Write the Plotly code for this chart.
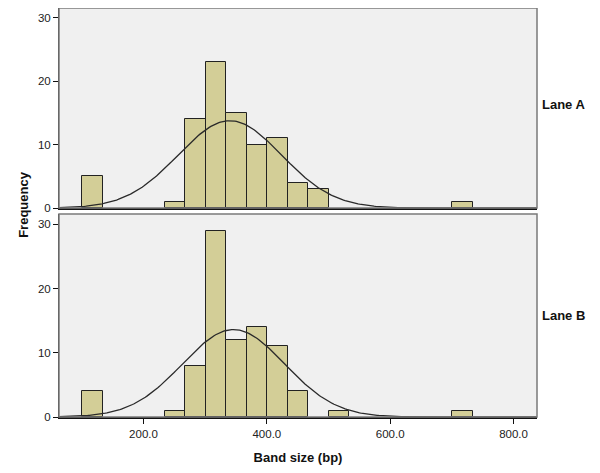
import numpy as np
import plotly.graph_objects as go
from plotly.subplots import make_subplots

# ---- data ----
bin_width = 33.3
bin_lefts_a = [101.0, 234.2, 267.5, 300.8, 334.1, 367.4, 400.7, 434.0, 467.3, 700.4]
counts_a = [5, 1, 14, 23, 15, 10, 11, 4, 3, 1]
bin_lefts_b = [101.0, 234.2, 267.5, 300.8, 334.1, 367.4, 400.7, 434.0, 500.6, 700.4]
counts_b = [4, 1, 8, 29, 12, 14, 11, 4, 1, 1]
mean_a, sd_a = 340.0, 84.0
mean_b, sd_b = 346.0, 83.0
x_ticks = [200, 400, 600, 800]
x_tick_labels = ["200.0", "400.0", "600.0", "800.0"]
y_ticks = [0, 10, 20, 30]
panel_labels = ["Lane A", "Lane B"]
x_title = "Band size (bp)"
y_title = "Frequency"

x_range = [63, 838]
BAR_FILL = "#D3CE97"
BG = "#F0F0F0"
FONT = "Liberation Sans, Arial, sans-serif"

fig = make_subplots(rows=2, cols=1, shared_xaxes=True, vertical_spacing=0.0)

def normal_curve(mean, sd, n):
    xs = np.linspace(x_range[0], x_range[1], 300)
    ys = n * bin_width / (sd * np.sqrt(2 * np.pi)) * np.exp(-0.5 * ((xs - mean) / sd) ** 2)
    return xs, ys

for row, (lefts, counts, m, s) in enumerate(
        [(bin_lefts_a, counts_a, mean_a, sd_a), (bin_lefts_b, counts_b, mean_b, sd_b)], start=1):
    fig.add_trace(go.Bar(x=lefts, y=counts, width=bin_width, offset=0,
                         marker=dict(color=BAR_FILL, line=dict(color="#222222", width=1)),
                         showlegend=False, hoverinfo="skip"), row=row, col=1)
    xs, ys = normal_curve(m, s, sum(counts))
    fig.add_trace(go.Scatter(x=xs, y=ys, mode="lines",
                             line=dict(color="#2a2a2a", width=1.3),
                             showlegend=False, hoverinfo="skip"), row=row, col=1)

# page body has an 8px default margin, so the figure is sized to fit the window
fig.update_layout(
    width=592, height=465,
    margin=dict(l=51, r=63, t=0, b=56),
    paper_bgcolor="white", plot_bgcolor=BG,
    bargap=0, font=dict(family=FONT, size=11.5, color="#222222"),
)

fig.update_xaxes(range=x_range, showgrid=False, zeroline=False,
                 showline=True, linecolor="#111111", linewidth=1.5)
fig.update_xaxes(showticklabels=False, ticks="", row=1, col=1)
fig.update_xaxes(tickvals=x_ticks, ticktext=x_tick_labels, ticks="outside",
                 ticklen=5, tickcolor="#111111",
                 title=dict(text="<b>" + x_title + "</b>", font=dict(size=13, color="#111111"),
                            standoff=14),
                 row=2, col=1)

fig.update_yaxes(showgrid=False, zeroline=False, tickvals=y_ticks, ticks="outside",
                 ticklen=5, tickcolor="#111111", showline=True, linecolor="#333333",
                 linewidth=1)
fig.update_yaxes(domain=[0.511, 1.0], range=[0, 31.55], row=1, col=1)
fig.update_yaxes(domain=[0.0, 0.4963], range=[0, 31.6], row=2, col=1)

# grey panel frames (top/right)
for xr, yr in [("x domain", "y domain"), ("x2 domain", "y2 domain")]:
    fig.add_shape(type="rect", xref=xr, yref=yr, x0=0, x1=1, y0=0, y1=1,
                  line=dict(color="#7a7a7a", width=1.5), fillcolor="rgba(0,0,0,0)",
                  layer="above")

# panel labels on right
fig.add_annotation(text="<b>" + panel_labels[0] + "</b>", xref="paper", yref="y domain",
                   x=1.0, y=0.52, xanchor="left", xshift=3, showarrow=False,
                   font=dict(size=13, color="#111111"))
fig.add_annotation(text="<b>" + panel_labels[1] + "</b>", xref="paper", yref="y2 domain",
                   x=1.0, y=0.5, xanchor="left", xshift=3, showarrow=False,
                   font=dict(size=13, color="#111111"))

# y title spanning both panels
fig.add_annotation(text="<b>" + y_title + "</b>", xref="paper", yref="paper",
                   x=0, y=0.52, xshift=-45, textangle=-90, showarrow=False,
                   font=dict(size=13, color="#111111"))

fig.write_html("out.html")
